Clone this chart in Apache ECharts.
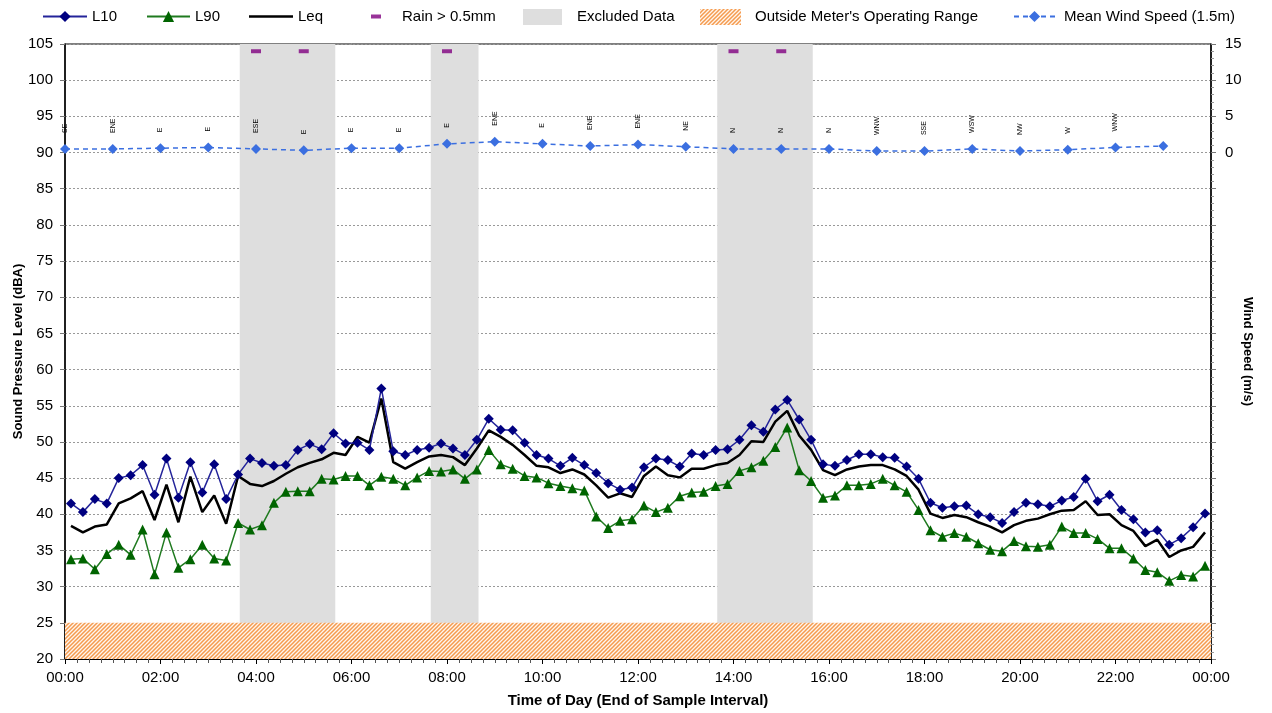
<!DOCTYPE html>
<html>
<head>
<meta charset="utf-8">
<script src="https://cdn.jsdelivr.net/npm/echarts@6/dist/echarts.min.js"></script>
<style>
  html, body { margin: 0; padding: 0; background: #fff; }
  #chart { width: 1272px; height: 713px; }
</style>
</head>
<body>
<div id="chart"></div>
<script>
// 15 minute samples, 96 per day
const L10 = [41.5, 40.3, 42.1, 41.5, 45.0, 45.4, 46.8, 42.7, 47.7, 42.3, 47.2, 43.0, 46.9, 42.1, 45.5, 47.7, 47.1, 46.7, 46.8, 48.9, 49.7, 49.0, 51.2,
  49.8, 49.9, 48.9, 57.4, 48.7, 48.2, 48.9, 49.2, 49.8, 49.1, 48.2, 50.3, 53.2, 51.7, 51.6, 49.9, 48.2, 47.7, 46.7, 47.8, 46.8, 45.7, 44.3,
  43.4, 43.7, 46.5, 47.7, 47.5, 46.6, 48.4, 48.2, 48.9, 49.0, 50.3, 52.3, 51.4, 54.5, 55.8, 53.1, 50.3, 46.9, 46.7, 47.5, 48.3, 48.3, 47.9, 47.8,
  46.6, 44.9, 41.6, 40.9, 41.1, 41.2, 40.0, 39.6, 38.8, 40.3, 41.6, 41.4, 41.1, 41.9, 42.4, 44.9, 41.8, 42.7, 40.6, 39.3, 37.5, 37.8, 35.8, 36.7, 38.2, 40.1];
const L90 = [33.8, 33.9, 32.4, 34.5, 35.8, 34.4, 37.9, 31.7, 37.5, 32.6, 33.8, 35.8, 33.9, 33.6, 38.8, 37.9, 38.5, 41.6, 43.1, 43.2, 43.2, 44.9, 44.8,
  45.3, 45.3, 44.0, 45.2, 44.9, 44.0, 45.1, 46.0, 45.9, 46.2, 44.9, 46.2, 48.9, 46.9, 46.3, 45.3, 45.1, 44.3, 43.9, 43.6, 43.3, 39.7, 38.1,
  39.1, 39.3, 41.2, 40.3, 40.9, 42.5, 43.0, 43.1, 43.9, 44.2, 46.0, 46.5, 47.4, 49.3, 52.0, 46.1, 44.6, 42.3, 42.6, 44.0, 44.0, 44.2, 44.9, 44.0,
  43.1, 40.6, 37.8, 36.9, 37.4, 36.9, 36.0, 35.1, 34.9, 36.3, 35.6, 35.5, 35.8, 38.3, 37.4, 37.4, 36.6, 35.3, 35.3, 33.9, 32.3, 32.0, 30.8, 31.6, 31.4, 32.9];
const Leq = [38.4, 37.5, 38.3, 38.6, 41.5, 42.2, 43.2, 39.2, 44.1, 38.9, 45.2, 40.3, 42.6, 38.7, 45.3, 44.2, 43.9, 44.6, 45.6, 46.5, 47.1, 47.6, 48.5,
  48.2, 50.7, 49.9, 56.0, 47.2, 46.3, 47.2, 48.0, 48.2, 47.9, 46.8, 49.1, 51.6, 50.7, 49.6, 48.2, 46.7, 46.5, 45.7, 46.2, 45.5, 44.0, 42.3,
  42.9, 42.4, 45.3, 46.6, 45.4, 45.1, 46.3, 46.3, 46.8, 47.1, 48.2, 50.1, 50.0, 52.8, 54.3, 50.9, 48.9, 46.1, 45.4, 46.2, 46.6, 46.8, 46.8, 46.2,
  45.3, 43.4, 40.1, 39.5, 39.9, 39.6, 38.9, 38.3, 37.5, 38.5, 39.1, 39.4, 40.0, 40.5, 40.6, 41.8, 39.9, 40.0, 38.5, 37.7, 35.6, 36.5, 34.1, 35.0, 35.5, 37.5];

// hourly wind
const windSpeed = [0.5, 0.5, 0.6, 0.7, 0.5, 0.3, 0.6, 0.6, 1.2, 1.5, 1.2, 0.9, 1.1, 0.8, 0.5, 0.5, 0.5, 0.2, 0.2, 0.5, 0.2, 0.4, 0.7, 0.9];
const windDir = ['SE', 'ENE', 'E', 'E', 'ESE', 'E', 'E', 'E', 'E', 'ENE', 'E', 'ENE', 'ENE', 'NE', 'N', 'N', 'N', 'WNW', 'SSE', 'WSW', 'NW', 'W', 'WNW', ''];

const rainHours = [4, 5, 8, 14, 15];
const rainLevel = 104;
const excluded = [[3.66, 5.66], [7.66, 8.66], [13.66, 15.66]];
const rangeLow = [20, 25];

const FONT = 'Liberation Sans, Arial, sans-serif';

// sample values are plotted at the middle of their 15 min slot
const toSlots = arr => arr.map((v, i) => [(i + 0.5) / 4, v]);

function hatch() {
  const c = document.createElement('canvas');
  c.width = 4; c.height = 4;
  const ctx = c.getContext('2d');
  ctx.fillStyle = '#fff6ee';
  ctx.fillRect(0, 0, 4, 4);
  ctx.strokeStyle = '#f59b4f';
  ctx.lineWidth = 1.5;
  ctx.beginPath();
  ctx.moveTo(-1, 5); ctx.lineTo(5, -1);
  ctx.moveTo(-3, 3); ctx.lineTo(3, -3);
  ctx.moveTo(1, 7); ctx.lineTo(7, 1);
  ctx.stroke();
  return c;
}
const hatchFill = { image: hatch(), repeat: 'repeat' };

// one legend per entry so each sits where it does in the original
function legendAt(name, left, w, h, pad, icon) {
  const l = {
    data: [name], left: left, top: 9, padding: 0, itemWidth: w, itemHeight: h,
    textStyle: { fontFamily: FONT, fontSize: 15, color: '#000', padding: [0, 0, 0, pad] }
  };
  if (icon) l.icon = icon;
  return l;
}

const chart = echarts.init(document.getElementById('chart'));

const option = {
  backgroundColor: '#fff',
  animation: false,
  legend: [
    legendAt('L10', 42, 44, 14, 0),
    legendAt('L90', 146, 43, 14, 0),
    legendAt('Leq', 249, 44, 2.5, 0, 'rect'),
    legendAt('Rain > 0.5mm', 371, 10, 4, 16, 'rect'),
    legendAt('Excluded Data', 523, 39, 16, 10, 'rect'),
    legendAt("Outside Meter's Operating Range", 700, 41, 16, 9, 'rect'),
    legendAt('Mean Wind Speed (1.5m)', 1013, 41, 14, 4)
  ],
  grid: {
    left: 65, right: 61, top: 44, bottom: 54, outerBoundsMode: 'none',
    show: true, borderColor: '#000', borderWidth: 1
  },
  xAxis: {
    type: 'value', min: 0, max: 24, interval: 2,
    name: 'Time of Day (End of Sample Interval)',
    nameLocation: 'middle', nameGap: 34,
    nameTextStyle: { fontFamily: FONT, fontSize: 15, fontWeight: 'bold', color: '#000' },
    axisLine: { onZero: false, lineStyle: { color: '#000', width: 1 } },
    axisTick: { length: 5, lineStyle: { color: '#000' } },
    minorTick: { show: true, splitNumber: 8, length: 4, lineStyle: { color: '#555' } },
    splitLine: { show: false },
    axisLabel: {
      margin: 11, fontFamily: FONT, fontSize: 15, color: '#000',
      formatter: v => String(v % 24).padStart(2, '0') + ':00'
    }
  },
  yAxis: [
    {
      type: 'value', min: 20, max: 105, interval: 5,
      name: 'Sound Pressure Level (dBA)',
      nameLocation: 'middle', nameGap: 40, nameRotate: 90, nameMoveOverlap: false,
      nameTextStyle: { fontFamily: FONT, fontSize: 13, fontWeight: 'bold', color: '#000' },
      axisLine: { show: true, onZero: false, lineStyle: { color: '#000', width: 1.5 } },
      axisTick: { show: true, length: 5, lineStyle: { color: '#777' } },
      splitLine: { lineStyle: { color: '#999', type: [2, 2], width: 1 } },
      axisLabel: { margin: 12, fontFamily: FONT, fontSize: 15, color: '#000' }
    },
    {
      type: 'value', min: -70, max: 15, interval: 5, position: 'right',
      name: 'Wind Speed (m/s)',
      nameLocation: 'middle', nameGap: 30, nameRotate: -90, nameMoveOverlap: false,
      nameTextStyle: { fontFamily: FONT, fontSize: 13, fontWeight: 'bold', color: '#000' },
      axisLine: { show: true, onZero: false, lineStyle: { color: '#000', width: 1.5 } },
      axisTick: { show: true, length: 5, lineStyle: { color: '#777' } },
      minorTick: { show: true, splitNumber: 5, length: 3, lineStyle: { color: '#999' } },
      splitLine: { show: false },
      axisLabel: {
        margin: 14, fontFamily: FONT, fontSize: 15, color: '#000',
        formatter: v => (v >= 0 ? String(v) : '')
      }
    }
  ],
  series: [
    {
      name: 'Excluded Data', type: 'line', data: [], symbol: 'none', z: 1,
      itemStyle: { color: '#dedede' },
      markArea: {
        silent: true,
        itemStyle: { color: '#dedede', opacity: 1 },
        data: excluded.map(p => [{ xAxis: p[0] }, { xAxis: p[1] }])
      }
    },
    {
      name: "Outside Meter's Operating Range", type: 'line', data: [], symbol: 'none', z: 1,
      itemStyle: { color: hatchFill },
      markArea: {
        silent: true,
        itemStyle: { color: hatchFill, opacity: 1 },
        data: [[{ yAxis: rangeLow[0] }, { yAxis: rangeLow[1] }]]
      }
    },
    {
      name: 'L90', type: 'line', data: toSlots(L90), z: 3,
      symbol: 'triangle', symbolSize: 10,
      itemStyle: { color: '#006400' },
      lineStyle: { color: '#1f7a1f', width: 1.5 }
    },
    {
      name: 'Leq', type: 'line', data: toSlots(Leq), z: 3,
      symbol: 'none', itemStyle: { color: '#000' },
      lineStyle: { color: '#000', width: 2.5 }
    },
    {
      name: 'L10', type: 'line', data: toSlots(L10), z: 4,
      symbol: 'diamond', symbolSize: 10,
      itemStyle: { color: '#000080' },
      lineStyle: { color: '#24249a', width: 1.5 }
    },
    {
      name: 'Rain > 0.5mm', type: 'scatter', z: 4,
      data: rainHours.map(h => [h, rainLevel]),
      symbol: 'rect', symbolSize: [10, 4],
      itemStyle: { color: '#800080' }
    },
    {
      name: 'Mean Wind Speed (1.5m)', type: 'line', yAxisIndex: 1, z: 4,
      data: windSpeed.map((v, i) => [i, v]),
      symbol: 'diamond', symbolSize: 10,
      itemStyle: { color: '#3b6fe0' },
      lineStyle: { color: '#3b6fe0', width: 1.5, type: [5, 4] },
      label: {
        show: true, position: 'top', distance: 11, rotate: 90,
        align: 'left', verticalAlign: 'middle',
        fontFamily: FONT, fontSize: 7, color: '#000',
        formatter: p => windDir[p.dataIndex]
      }
    }
  ]
};

chart.setOption(option);
</script>
</body>
</html>
